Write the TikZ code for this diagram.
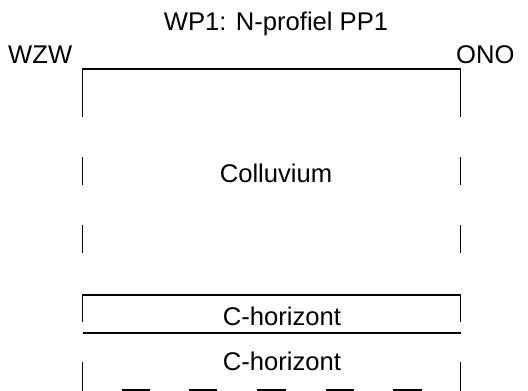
\documentclass[tikz,border=0pt]{standalone}
\usepackage{fontspec}
\setmainfont{Liberation Sans}
\begin{document}
\begin{tikzpicture}[x=1pt,y=-1pt,
  lbl/.style={anchor=base,inner sep=0pt,font=\fontsize{25.6}{30}\selectfont},
  ln/.style={line width=1.8pt,line cap=butt}]
\useasboundingbox (0,0) rectangle (528,391);
% texts
\node[lbl] (title) at (276,30.5) {WP1: N-profiel PP1};
\node[lbl,anchor=base west] (wzw) at (8,63) {WZW};
\node[lbl,anchor=base west] (ono) at (456,63) {ONO};
\node[lbl] (coll) at (276,182.5) {Colluvium};
\node[lbl] (ch1) at (282,325) {C-horizont};
\node[lbl] (ch2) at (282,370.5) {C-horizont};
% top of profile
\draw[ln] (82.5,117) -- (82.5,69) -- (460.5,69) -- (460.5,117);
% dashed sides
\foreach \ya/\yb in {157/185,225/253}{
  \draw[ln] (82.5,\ya) -- (82.5,\yb);
  \draw[ln] (460.5,\ya) -- (460.5,\yb);
}
% C-horizont box
\draw[ln] (82.5,322) -- (82.5,295) -- (460.5,295) -- (460.5,322);
\draw[ln] (82.5,333) -- (460.5,333);
% lower sides
\draw[ln] (82.5,362) -- (82.5,392);
\draw[ln] (460.5,362) -- (460.5,392);
% bottom dashes
\foreach \xa/\xb in {122/150,189/217,257/286,326/354,393/422}{
  \draw[ln] (\xa,390) -- (\xb,390);
}
\end{tikzpicture}
\end{document}
